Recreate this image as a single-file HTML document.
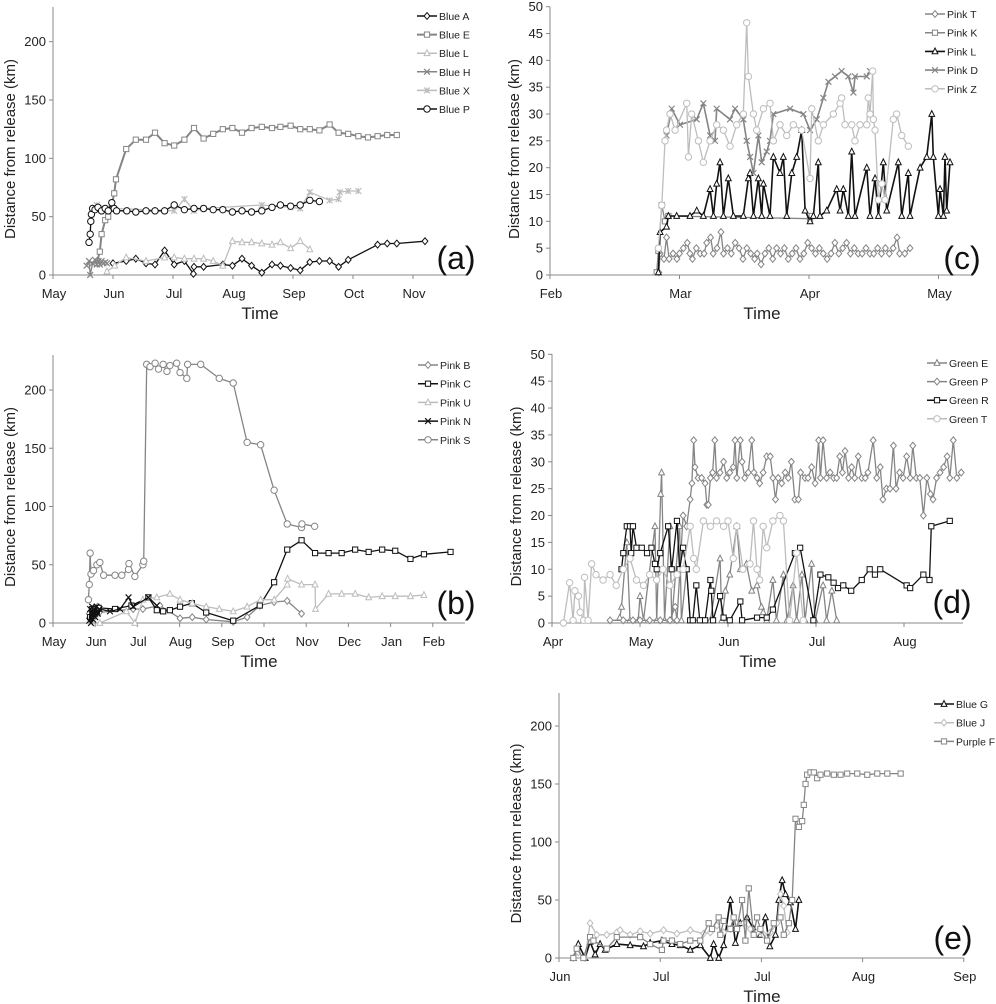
<!DOCTYPE html>
<html><head><meta charset="utf-8"><style>
html,body{margin:0;padding:0;background:#fff}
svg{display:block;font-family:"Liberation Sans",Arial,sans-serif}
</style></head><body>
<svg id="chart" width="996" height="1004" viewBox="0 0 996 1004" xmlns="http://www.w3.org/2000/svg"></svg>
<script>
// ---------- DATA (x = months since first axis tick, y = km) ----------
const monthsA = ["May","Jun","Jul","Aug","Sep","Oct","Nov"];
const monthsB = ["May","Jun","Jul","Aug","Sep","Oct","Nov","Dec","Jan","Feb"];
const monthsC = ["Feb","Mar","Apr","May"];
const monthsD = ["Apr","May","Jun","Jul","Aug"];
const monthsE = ["Jun","Jul","Jul","Aug","Sep"];
const yTicks200 = [0,50,100,150,200];
const yTicks50 = [0,5,10,15,20,25,30,35,40,45,50];

const blueE = [[0.73,10],[0.78,20],[0.81,35],[0.87,47],[0.92,50],[0.98,60],[1.02,70],[1.05,82],[1.22,108],[1.38,116],[1.55,116],[1.70,122],[1.86,113],[2.02,111],[2.19,116],[2.35,126],[2.51,117],[2.67,121],[2.83,125],[2.99,126],[3.15,122],[3.31,126],[3.48,127],[3.65,126],[3.79,127],[3.96,128],[4.12,125],[4.28,125],[4.44,124],[4.61,129],[4.76,122],[4.92,121],[5.09,119],[5.25,118],[5.41,119],[5.57,120],[5.73,120]];
const blueP = [[0.60,28],[0.62,35],[0.63,46],[0.64,52],[0.66,57],[0.70,56],[0.75,58],[0.81,55],[0.87,57],[0.92,55],[0.98,62],[1.02,57],[1.06,55],[1.23,55],[1.38,54],[1.55,55],[1.70,55],[1.86,55],[2.02,60],[2.19,56],[2.35,57],[2.51,57],[2.67,56],[2.83,56],[2.99,54],[3.15,55],[3.31,54],[3.48,55],[3.65,58],[3.79,60],[3.96,59],[4.12,60],[4.28,64],[4.44,63]];
const blueA = [[1.0,10],[1.22,12],[1.38,14],[1.55,10],[1.70,9],[1.86,21],[2.02,9],[2.19,12],[2.34,1],[2.35,7],[2.51,7],[2.83,9],[2.99,8],[3.15,14],[3.31,8],[3.48,2],[3.65,9],[3.79,8],[3.96,6],[4.12,4],[4.28,11],[4.44,12],[4.61,12],[4.76,7],[4.92,13],[5.41,26],[5.57,27],[5.73,27],[6.20,29]];
const blueL = [[0.90,3],[1.03,8],[1.22,15],[1.55,12],[1.86,15],[2.02,15],[2.19,14],[2.35,14],[2.51,14],[2.67,12],[2.83,8],[2.99,29],[3.15,28],[3.31,28],[3.48,27],[3.65,26],[3.79,28],[3.96,23],[4.12,29],[4.28,22]];
const blueH = [[0.56,8],[0.60,12],[0.62,0],[0.66,10],[0.70,13],[0.73,9],[0.76,12],[0.78,9],[0.81,12],[0.84,10],[0.87,11],[0.90,10]];
const blueX = [[0.73,60],[1.0,57],[2.02,55],[2.19,65],[2.35,55],[2.51,57],[3.48,60],[3.96,58],[4.12,57],[4.28,71],[4.61,64],[4.76,65],[4.78,71],[4.92,72],[5.09,72]];

const pinkS = [[0.84,20],[0.86,33],[0.88,60],[0.90,42],[0.96,45],[1.04,50],[1.11,52],[1.20,41],[1.47,41],[1.63,41],[1.79,46],[1.80,51],[1.94,40],[2.13,50],[2.15,53],[2.22,222],[2.30,220],[2.42,223],[2.50,218],[2.61,222],[2.70,216],[2.77,221],[2.93,223],[3.01,215],[3.17,210],[3.19,222],[3.50,222],[3.94,210],[4.27,206],[4.60,155],[4.92,153],[5.24,114],[5.55,85],[5.89,82],[5.90,85],[6.20,83]];
const pinkC = [[0.88,5],[0.93,12],[0.98,8],[1.04,10],[1.08,13],[1.47,12],[1.86,15],[2.26,22],[2.46,11],[2.61,10],[2.77,11],[3.01,14],[3.29,17],[3.63,9],[4.27,2],[4.90,15],[5.24,35],[5.55,63],[5.89,71],[6.21,60],[6.53,60],[6.84,60],[7.16,63],[7.48,61],[7.80,63],[8.11,62],[8.47,55],[8.79,59],[9.42,61]];
const pinkB = [[0.86,8],[0.92,12],[1.0,6],[1.06,14],[1.10,9],[1.90,12],[2.13,12],[2.53,15],[3.01,4],[3.30,5],[3.63,3],[4.27,1],[4.60,5],[4.90,15],[5.24,18],[5.55,19],[5.89,8]];
const pinkU = [[1.11,0],[1.74,10],[1.94,0],[2.13,20],[2.46,22],[2.77,25],[3.01,20],[3.30,17],[3.63,14],[3.94,12],[4.27,10],[4.60,14],[4.92,20],[5.24,20],[5.55,33],[5.56,38],[5.89,33],[6.21,33],[6.22,12],[6.53,25],[6.84,25],[7.16,25],[7.48,22],[7.80,23],[8.11,23],[8.47,23],[8.79,24]];
const pinkN = [[0.86,2],[0.88,12],[0.90,0],[0.93,14],[0.95,3],[0.98,12],[1.00,5],[1.03,14],[1.06,8],[1.10,12],[1.35,10],[1.59,12],[1.79,22],[1.90,14],[2.26,22],[2.46,15]];

const pinkT = [[0.84,0.5],[0.85,4],[0.88,3],[0.90,7],[0.92,3],[0.95,4],[0.98,3],[1.00,4],[1.03,5],[1.06,6],[1.08,4],[1.10,3],[1.13,5],[1.16,4],[1.19,4],[1.21,6],[1.24,7],[1.26,4],[1.29,5],[1.32,8],[1.34,4],[1.37,5],[1.40,4],[1.43,6],[1.46,5],[1.49,3],[1.52,5],[1.55,4],[1.58,3],[1.60,4],[1.63,2],[1.66,4],[1.69,5],[1.72,3],[1.75,5],[1.78,4],[1.81,5],[1.84,3],[1.87,4],[1.90,5],[1.93,3],[1.96,4],[1.99,6],[2.02,5],[2.05,4],[2.08,5],[2.11,4],[2.14,3],[2.17,4],[2.20,6],[2.23,4],[2.26,5],[2.29,6],[2.32,4],[2.35,5],[2.38,4],[2.41,4],[2.44,5],[2.47,4],[2.50,4],[2.53,5],[2.56,4],[2.59,5],[2.62,4],[2.65,5],[2.68,7],[2.70,4],[2.74,4],[2.78,5]];
const pinkK = [[0.824,0.5],[0.837,4.5],[0.863,13],[0.888,10],[0.914,11],[2.008,10.5],[2.021,11]];
const pinkL = [[0.837,0.5],[0.85,8],[0.9,9],[0.914,11],[0.978,11],[1.081,11],[1.133,12],[1.184,11],[1.236,16],[1.262,11],[1.287,17],[1.313,21],[1.339,11],[1.377,18],[1.416,11],[1.493,11],[1.532,18],[1.545,19],[1.571,11],[1.609,18],[1.635,11],[1.648,17],[1.699,11],[1.725,22],[1.776,19],[1.802,22],[1.828,11],[1.867,19],[1.905,22],[1.944,27],[1.97,12],[2.008,10],[2.034,11],[2.072,21],[2.085,11],[2.137,12],[2.214,16],[2.24,12],[2.265,16],[2.304,11],[2.33,23],[2.355,11],[2.446,20],[2.471,11],[2.51,18],[2.536,11],[2.574,21],[2.6,12],[2.69,21],[2.716,11],[2.767,19],[2.78,11],[2.858,20],[2.909,22],[2.948,30],[2.96,22],[2.999,11],[3.012,16],[3.038,11],[3.05,22],[3.063,12],[3.089,21]];
const pinkD = [[0.9,26],[0.94,31],[1.004,28],[1.133,29],[1.184,32],[1.236,26],[1.274,25],[1.287,31],[1.39,29],[1.429,31],[1.493,29],[1.519,25],[1.545,22],[1.571,19],[1.609,26],[1.635,21],[1.673,23],[1.699,25],[1.725,30],[1.854,31],[1.957,30],[2.008,27],[2.06,29],[2.111,33],[2.15,36],[2.201,37],[2.252,38],[2.304,37],[2.343,34],[2.355,37],[2.446,37],[2.471,38]];
const pinkZ = [[0.837,5],[0.863,13],[0.888,25],[0.9,27],[0.927,30],[0.966,27],[1.056,32],[1.069,22],[1.094,30],[1.146,25],[1.184,21],[1.236,25],[1.287,28],[1.339,27],[1.39,24],[1.442,28],[1.493,30],[1.519,47],[1.532,37],[1.571,30],[1.596,27],[1.648,31],[1.699,32],[1.725,25],[1.776,28],[1.828,26],[1.879,28],[1.944,27],[2.008,18],[2.021,31],[2.072,25],[2.111,28],[2.188,30],[2.24,32],[2.252,33],[2.278,28],[2.33,28],[2.355,25],[2.394,28],[2.446,28],[2.458,33],[2.471,30],[2.492,38],[2.497,29],[2.51,27],[2.536,14],[2.562,17],[2.587,14],[2.651,29],[2.677,30],[2.716,26],[2.767,24]];

const greenE = [[0.77,1],[0.79,3],[0.85,15],[0.886,0.5],[0.98,0.5],[1.0,5],[1.04,0.5],[1.17,18],[1.19,0.5],[1.235,24],[1.245,28],[1.28,0.5],[1.34,18],[1.36,0.5],[1.45,18],[1.47,0.5],[1.53,10],[1.57,0.5],[1.8,0.5],[1.91,12],[1.93,0.5],[1.97,6],[2.02,9],[2.1,18],[2.14,10],[2.21,11],[2.27,6],[2.33,7],[2.38,3],[2.4,2],[2.44,0.5],[2.51,8],[2.55,0.5],[2.63,9],[2.67,0.5],[2.74,7],[2.78,0.5],[2.84,9],[2.875,0.5],[2.95,11],[2.99,0.5],[3.08,7],[3.12,0.5],[3.18,6],[3.235,0.5]];
const greenP = [[0.66,0.5],[0.81,0.5],[0.92,0.5],[1.0,0.5],[1.11,0.5],[1.23,0.5],[1.34,0.5],[1.4,3],[1.42,0.5],[1.49,20],[1.53,18],[1.57,23],[1.59,26],[1.61,34],[1.625,29],[1.66,27],[1.7,27],[1.74,26],[1.76,22],[1.776,22],[1.8,27],[1.825,28],[1.85,34],[1.87,27],[1.91,28],[1.95,30],[1.985,27],[2.02,28],[2.06,29],[2.08,34],[2.1,27],[2.14,34],[2.16,30],[2.19,27],[2.23,28],[2.27,34],[2.295,28],[2.33,27],[2.36,26],[2.4,28],[2.44,31],[2.48,31],[2.51,27],[2.54,23],[2.57,27],[2.61,26],[2.65,28],[2.685,27],[2.72,30],[2.76,23],[2.8,23],[2.825,28],[2.875,27],[2.91,27],[2.95,29],[2.99,26],[3.03,34],[3.05,27],[3.08,34],[3.12,27],[3.16,28],[3.2,27],[3.235,27],[3.27,31],[3.3,28],[3.33,32],[3.37,27],[3.405,29],[3.44,27],[3.48,31],[3.52,27],[3.56,27],[3.59,28],[3.65,34],[3.69,27],[3.73,29],[3.76,23],[3.8,25],[3.84,25],[3.88,33],[3.91,25],[3.95,28],[3.99,27],[4.03,31],[4.07,27],[4.1,33],[4.14,27],[4.18,27],[4.22,20],[4.26,27],[4.3,24],[4.33,23],[4.37,27],[4.41,28],[4.45,29],[4.49,31],[4.52,27],[4.56,34],[4.6,27],[4.65,28]];
const greenR = [[0.79,10],[0.81,13],[0.85,18],[0.886,18],[0.9,13],[0.92,18],[0.96,14],[1.02,14],[1.08,13],[1.13,14],[1.17,11],[1.19,10],[1.23,13],[1.32,18],[1.36,10],[1.42,19],[1.45,10],[1.49,14],[1.53,10],[1.57,0.5],[1.6,0.5],[1.64,7],[1.68,0.5],[1.74,0.5],[1.8,8],[1.81,6],[1.83,0.5],[1.91,5],[1.95,1],[2.02,0.5],[2.14,4],[2.16,0.5],[2.33,1],[2.44,1],[2.51,2.5],[2.76,13],[2.82,14],[2.97,0.5],[3.05,9],[3.14,8.5],[3.2,7.5],[3.25,6.5],[3.31,7],[3.4,6],[3.52,8],[3.61,10],[3.67,9],[3.73,10],[4.03,7],[4.07,6.5],[4.22,9],[4.29,8],[4.31,18],[4.52,19]];
const greenT = [[0.13,0],[0.2,7.5],[0.24,0.5],[0.26,6],[0.3,5],[0.32,2],[0.36,0.5],[0.37,8.5],[0.41,0.5],[0.45,11],[0.5,9],[0.58,8],[0.66,9],[0.73,7],[0.81,10],[0.886,12],[0.96,8],[1.04,7],[1.11,9],[1.19,8],[1.26,10],[1.34,7],[1.42,9],[1.49,10],[1.57,18],[1.61,12],[1.64,10],[1.72,19],[1.8,18],[1.87,19],[1.95,18],[2.0,19],[2.06,12],[2.1,18],[2.17,10],[2.25,11],[2.29,19],[2.33,10],[2.36,8],[2.4,18],[2.44,14],[2.51,19],[2.59,20],[2.63,19],[2.7,0.5],[2.78,13],[2.855,0.5]];

const purpleF = [[0.142,0],[0.175,8],[0.241,0],[0.307,18],[0.34,15],[0.472,8],[0.571,18],[0.802,18],[0.901,12],[1.017,7],[1.033,15],[1.116,15],[1.198,12],[1.297,15],[1.396,15],[1.479,30],[1.512,25],[1.578,35],[1.594,20],[1.627,32],[1.693,25],[1.726,35],[1.759,25],[1.809,50],[1.842,15],[1.875,60],[1.924,20],[1.957,35],[1.99,25],[2.056,15],[2.122,30],[2.188,35],[2.221,20],[2.271,30],[2.304,50],[2.337,120],[2.37,113],[2.403,118],[2.419,132],[2.436,150],[2.452,158],[2.485,160],[2.518,160],[2.551,155],[2.584,158],[2.65,159],[2.716,158],[2.782,158],[2.848,159],[2.947,159],[3.046,158],[3.145,159],[3.244,159],[3.376,159]];
const blueJ = [[0.142,0],[0.191,5],[0.258,0],[0.307,30],[0.373,20],[0.472,20],[0.571,22],[0.604,24],[0.703,20],[0.802,23],[0.901,21],[1.033,24],[1.165,21],[1.297,24],[1.429,21],[1.495,22],[1.561,28],[1.627,22],[1.693,25],[1.759,30],[1.825,30],[1.891,25],[1.957,22],[2.023,20],[2.089,22],[2.155,30],[2.188,55],[2.221,45],[2.254,22]];
const blueG = [[0.142,0],[0.191,12],[0.258,0],[0.307,14],[0.357,3],[0.406,12],[0.456,7],[0.571,12],[0.703,11],[0.835,10],[0.901,13],[1.017,15],[1.116,12],[1.198,11],[1.297,7],[1.396,11],[1.495,0],[1.528,12],[1.578,0],[1.627,11],[1.693,50],[1.743,13],[1.792,30],[1.858,35],[1.924,25],[1.99,20],[2.04,35],[2.083,10],[2.139,20],[2.172,50],[2.205,67],[2.238,55],[2.287,48],[2.337,25],[2.37,50]];

// ---------- RENDER ----------
const NS="http://www.w3.org/2000/svg";
const svg=document.getElementById('chart');
function mk(tag,attrs,parent){const e=document.createElementNS(NS,tag);for(const k in attrs)e.setAttribute(k,attrs[k]);(parent||svg).appendChild(e);return e;}

function marker(g,type,cx,cy,color){
  const r=2.9;let e;
  if(type==='circle') e=mk('circle',{cx,cy,r:r+0.3,fill:'#fff',stroke:color,'stroke-width':1},g);
  else if(type==='square') e=mk('rect',{x:cx-r+0.3,y:cy-r+0.3,width:2*r-0.6,height:2*r-0.6,fill:'#fff',stroke:color,'stroke-width':1},g);
  else if(type==='diamond') e=mk('polygon',{points:`${cx},${cy-r-0.5} ${cx+r},${cy} ${cx},${cy+r+0.5} ${cx-r},${cy}`,fill:'#fff',stroke:color,'stroke-width':1},g);
  else if(type==='triangle') e=mk('polygon',{points:`${cx},${cy-r-0.5} ${cx+r},${cy+r-0.5} ${cx-r},${cy+r-0.5}`,fill:'#fff',stroke:color,'stroke-width':1},g);
  else if(type==='x') e=mk('path',{d:`M${cx-r},${cy-r}L${cx+r},${cy+r}M${cx-r},${cy+r}L${cx+r},${cy-r}`,stroke:color,'stroke-width':1.2,fill:'none'},g);
  else if(type==='star') e=mk('path',{d:`M${cx-r},${cy-r}L${cx+r},${cy+r}M${cx-r},${cy+r}L${cx+r},${cy-r}M${cx},${cy-r}L${cx},${cy+r}`,stroke:color,'stroke-width':1.2,fill:'none'},g);
  
  
}

function panel(cfg){
  const g=mk('g',{});
  
  
  const X=m=>cfg.left+m*cfg.sp;
  const Y=v=>cfg.y0-v*cfg.ppu;
  const ax=mk('path',{d:`M${cfg.left},${cfg.top}L${cfg.left},${cfg.y0}L${cfg.right},${cfg.y0}`,stroke:'#888',fill:'none','stroke-width':1},g);
  
  
  cfg.yt.forEach(v=>{
    mk('line',{x1:cfg.left-4,x2:cfg.left,y1:Y(v),y2:Y(v),stroke:'#888'},g);
    const t=mk('text',{x:cfg.left-7,y:Y(v)+4.5,'text-anchor':'end','font-size':13,fill:'#222'},g);
    t.textContent=v;
    
    
  });
  cfg.months.forEach((m,i)=>{
    mk('line',{x1:X(i),x2:X(i),y1:cfg.y0,y2:cfg.y0+4,stroke:'#888'},g);
    const t=mk('text',{x:X(i)+1,y:cfg.y0+23,'text-anchor':'middle','font-size':13,fill:'#222'},g);
    t.textContent=m;
    
    
  });
  const yl=mk('text',{x:0,y:0,'text-anchor':'middle','font-size':15,fill:'#222',transform:`translate(${cfg.ylx},${(cfg.top+cfg.y0)/2+8}) rotate(-90)`},g);
  yl.textContent='Distance from release (km)';
  
  
  const xl=mk('text',{x:cfg.tx,y:cfg.y0+44,'text-anchor':'middle','font-size':17,fill:'#222'},g);
  xl.textContent='Time';
  
  
  const pl=mk('text',{x:cfg.px,y:cfg.py,'text-anchor':'middle','font-size':32,fill:'#111'},g);
  pl.textContent='('+cfg.id+')';
  
  
  cfg.series.forEach((s,i)=>{
    const sg=mk('g',{},g);
    
    
    const d=s.data.map((p,j)=>(j?'L':'M')+X(p[0]).toFixed(1)+','+Y(p[1]).toFixed(1)).join('');
    mk('path',{d,stroke:s.c,fill:'none','stroke-width':s.w||1.3,'stroke-linejoin':'round'},sg);
    s.data.forEach(p=>marker(sg,s.m,X(p[0]),Y(p[1]),s.c));
  });
  cfg.series.forEach((s,i)=>{
    const lg=mk('g',{},g);
    
    
    const ly=cfg.ly+i*cfg.lsp;
    mk('line',{x1:cfg.lx,x2:cfg.lx+20,y1:ly,y2:ly,stroke:s.c,'stroke-width':s.w||1.5},lg);
    marker(lg,s.m,cfg.lx+10,ly,s.c);
    const t=mk('text',{x:cfg.lx+22,y:ly+4,'font-size':10.5,fill:'#222'},lg);
    t.textContent=s.name;
    if(s.name.length>7){t.setAttribute('textLength',Math.min(48,996-cfg.lx-23));t.setAttribute('lengthAdjust','spacingAndGlyphs');}
  });
}
const K='#111',G='#858585',L='#bdbdbd';
panel({id:'a',left:53,sp:60,y0:275,ppu:1.1665,top:7,right:467,months:monthsA,yt:yTicks200,ylx:15,tx:260,px:456,py:269,lx:417,ly:16,lsp:18.6,
 series:[{name:'Blue A',data:blueA,c:K,m:'diamond'},{name:'Blue E',data:blueE,c:G,m:'square',w:2},{name:'Blue L',data:blueL,c:L,m:'triangle'},{name:'Blue H',data:blueH,c:G,m:'x'},{name:'Blue X',data:blueX,c:L,m:'star'},{name:'Blue P',data:blueP,c:K,m:'circle'}]});
panel({id:'b',left:53,sp:42.2,y0:623,ppu:1.165,top:355,right:465,months:monthsB,yt:yTicks200,ylx:15,tx:259,px:456,py:614,lx:418,ly:365,lsp:18.7,
 series:[{name:'Pink B',data:pinkB,c:G,m:'diamond'},{name:'Pink C',data:pinkC,c:K,m:'square'},{name:'Pink U',data:pinkU,c:L,m:'triangle'},{name:'Pink N',data:pinkN,c:K,m:'x'},{name:'Pink S',data:pinkS,c:G,m:'circle'}]});
panel({id:'c',left:550,sp:129.5,y0:275,ppu:5.366,top:7,right:970,months:monthsC,yt:yTicks50,ylx:519,tx:762,px:962,py:269,lx:925,ly:14,lsp:18.7,
 series:[{name:'Pink T',data:pinkT,c:G,m:'diamond'},{name:'Pink K',data:pinkK,c:G,m:'square'},{name:'Pink L',data:pinkL,c:K,m:'triangle',w:1.6},{name:'Pink D',data:pinkD,c:G,m:'x',w:1.6},{name:'Pink Z',data:pinkZ,c:L,m:'circle'}]});
panel({id:'d',left:552,sp:88,y0:623,ppu:5.374,top:354,right:963,months:monthsD,yt:yTicks50,ylx:521,tx:758,px:952,py:613,lx:927,ly:363,lsp:18.6,
 series:[{name:'Green E',data:greenE,c:G,m:'triangle'},{name:'Green P',data:greenP,c:G,m:'diamond'},{name:'Green R',data:greenR,c:K,m:'square'},{name:'Green T',data:greenT,c:L,m:'circle'}]});
panel({id:'e',left:559,sp:101.2,y0:958,ppu:1.16,top:693,right:964,months:monthsE,yt:yTicks200,ylx:521,tx:762,px:953,py:949,lx:934,ly:704,lsp:18.7,
 series:[{name:'Blue G',data:blueG,c:K,m:'triangle',w:1.6},{name:'Blue J',data:blueJ,c:L,m:'diamond'},{name:'Purple F',data:purpleF,c:G,m:'square'}]});
</script>
</body></html>
